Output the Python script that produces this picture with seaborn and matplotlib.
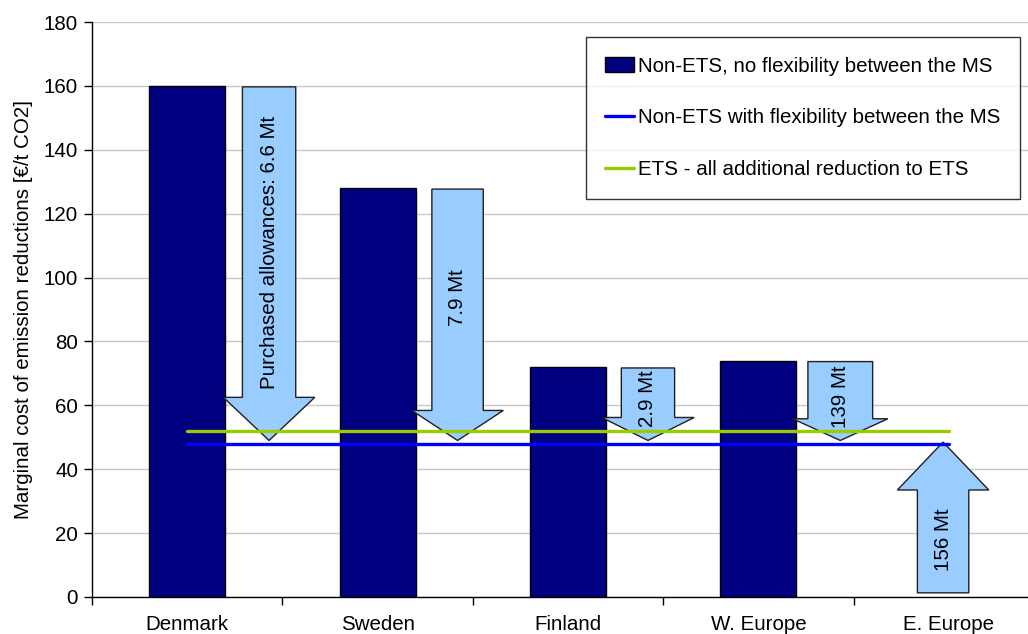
import numpy as np
import pandas as pd
import matplotlib
matplotlib.use("Agg")
import matplotlib.pyplot as plt
from matplotlib.patches import FancyArrow, Patch
from matplotlib.lines import Line2D
import seaborn as sns

# ---- data ----
regions = ["Denmark", "Sweden", "Finland", "W. Europe", "E. Europe"]
cost_no_flex = [160, 128, 72, 74, np.nan]          # €/t CO2, Non-ETS without flexibility
cost_flex = 48                                      # €/t CO2, Non-ETS with flexibility
cost_ets = 52                                       # €/t CO2, all additional reduction to ETS
transfer_labels = ["Purchased allowances: 6.6 Mt", "7.9 Mt", "2.9 Mt", "139 Mt", "156 Mt"]
transfer_start = [160, 128, 72, 74, 0]              # arrows run from here to the flexible price

legend_labels = ["Non-ETS, no flexibility between the MS",
                 "Non-ETS with flexibility between the MS",
                 "ETS - all additional reduction to ETS"]

# ---- arrow layout (x offset from category, shaft width, head width, head length, label y) ----
arrow_dx = [0.43, 0.42, 0.42, 0.43, -0.03]
arrow_shaft = [0.28, 0.27, 0.28, 0.34, 0.27]
arrow_head = [0.48, 0.48, 0.485, 0.50, 0.48]
arrow_headlen = [13.5, 9.4, 7.2, 6.8, 15.0]
label_y = [108, 93.6, 62, 62.6, 17.8]

NAVY = "#000080"
BLUE = "#0000FF"
GREEN = "#99CC00"
ARROW = "#99CCFF"
FS = 14.8

sns.set_theme(style="white")
plt.rcParams["font.family"] = ["Liberation Sans", "DejaVu Sans"]
plt.rcParams.update({"text.color": "black", "axes.labelcolor": "black",
                     "xtick.color": "black", "ytick.color": "black"})

fig = plt.figure(figsize=(10.28, 6.34), dpi=100)
ax = fig.add_axes([92 / 1028, 37 / 634, 952 / 1028, 575 / 634])

df = pd.DataFrame({"region": regions, "cost": cost_no_flex}).dropna()
sns.barplot(data=df, x="region", y="cost", order=regions, color=NAVY,
            saturation=1, width=0.4, edgecolor="black", linewidth=1, ax=ax, zorder=2)

# transfer arrows towards the common flexible price
for i, (start, lab) in enumerate(zip(transfer_start, transfer_labels)):
    x = i + arrow_dx[i]
    if start > cost_flex:
        y0 = start - 0.3
        y1 = cost_flex + 1.0
    else:
        y0 = start + 1.3
        y1 = cost_flex + 0.5
    arr = FancyArrow(x, y0, 0, y1 - y0, width=arrow_shaft[i], head_width=arrow_head[i],
                     head_length=arrow_headlen[i], length_includes_head=True,
                     facecolor=ARROW, edgecolor="#202020", linewidth=1, zorder=3)
    ax.add_patch(arr)
    ax.text(x, label_y[i], lab, rotation=90, ha="center", va="center",
            fontsize=FS, color="black", zorder=5)

# price lines spanning all regions
ax.plot([0, len(regions) - 1], [cost_ets, cost_ets], color=GREEN, lw=2.4, zorder=4)
ax.plot([0, len(regions) - 1], [cost_flex, cost_flex], color=BLUE, lw=2.4, zorder=4)

ax.set_xlim(-0.5, len(regions) - 0.5)
ax.set_ylim(0, 180)
ax.set_yticks(np.arange(0, 181, 20))
ax.yaxis.grid(True, color="#C8C8C8", lw=1)
ax.set_axisbelow(True)
ax.set_xlabel("")
ax.set_ylabel("Marginal cost of emission reductions [€/t CO2]", fontsize=FS, labelpad=8)

ax.set_xticks(range(len(regions)))
ax.set_xticklabels(regions)
ax.set_xticks(np.arange(-0.5, len(regions), 1), minor=True)
ax.tick_params(axis="x", which="major", length=0, pad=13, labelsize=FS)
ax.tick_params(axis="x", which="minor", length=6, width=1, color="black", direction="out", bottom=True)
ax.tick_params(axis="y", length=6, width=1, color="black", direction="out", left=True, labelsize=FS, pad=4)

for s in ["top", "right"]:
    ax.spines[s].set_visible(False)
for s in ["left", "bottom"]:
    ax.spines[s].set_color("black")
    ax.spines[s].set_linewidth(1)

handles = [Patch(facecolor=NAVY, edgecolor="black", linewidth=1),
           Line2D([], [], color=BLUE, lw=2.4),
           Line2D([], [], color=GREEN, lw=2.4)]
leg = ax.legend(handles, legend_labels, loc="upper right",
                bbox_to_anchor=(1020 / 1028, 1 - 37 / 634), bbox_transform=fig.transFigure,
                fontsize=FS, frameon=True, fancybox=False, edgecolor="black",
                labelspacing=1.6, handlelength=1.4, handletextpad=0.2, borderpad=0.95,
                borderaxespad=0)
leg.get_frame().set_linewidth(1)
leg.set_zorder(6)

fig.savefig("out.png", dpi=100)
